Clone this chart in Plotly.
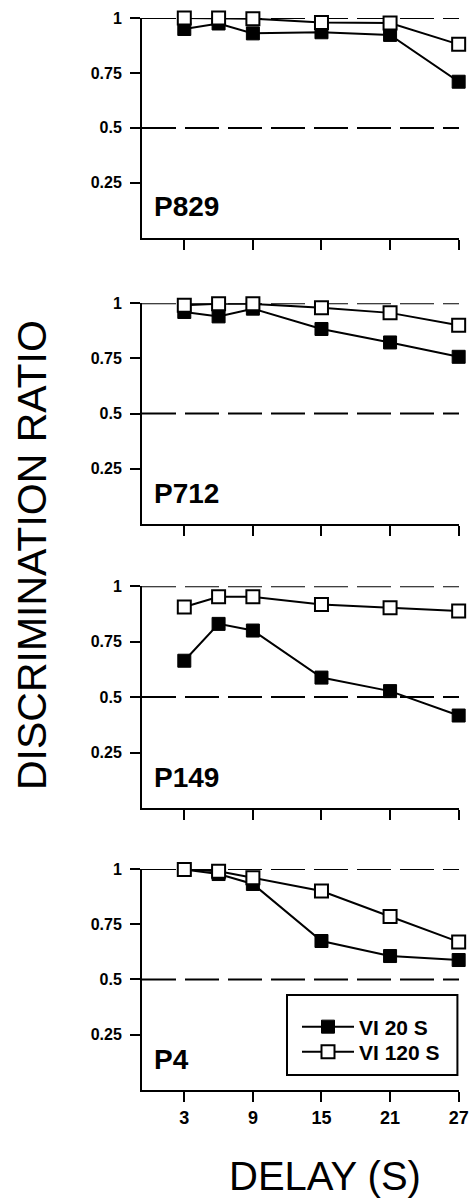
import plotly.graph_objects as go

# ---- data ----
delays = [3, 6, 9, 15, 21, 27]
panels = ["P829", "P712", "P149", "P4"]
vi20 = {
    "P829": [0.95, 0.975, 0.93, 0.935, 0.923, 0.71],
    "P712": [0.96, 0.94, 0.975, 0.883, 0.822, 0.757],
    "P149": [0.664, 0.83, 0.80, 0.588, 0.527, 0.417],
    "P4":   [0.997, 0.977, 0.932, 0.674, 0.606, 0.588],
}
vi120 = {
    "P829": [1.0, 1.0, 0.997, 0.98, 0.977, 0.88],
    "P712": [0.99, 0.997, 0.997, 0.979, 0.956, 0.90],
    "P149": [0.906, 0.952, 0.952, 0.917, 0.903, 0.888],
    "P4":   [0.997, 0.99, 0.96, 0.90, 0.785, 0.67],
}
series_names = ["VI 20 S", "VI 120 S"]
x_ticks = [3, 9, 15, 21, 27]
y_ticks = [0.25, 0.5, 0.75, 1]
y_ticktext = ["0.25", "0.5", "0.75", "1"]
ref_lines = [0.5, 1.0]

FONT = "Liberation Sans, Arial, Helvetica, sans-serif"
W, H = 471, 1203
ML, MR, MT, MB = 142, 12, 18, 113
PW = W - ML - MR  # plot width in px

# vertical domains (paper fractions), top panel first
domains = [[0.795, 1.0], [0.528, 0.734], [0.263, 0.470], [0.0, 0.2062]]

legend_font = dict(family=FONT, size=21, weight="bold", color="black")
legend_x = (297 - ML) / PW
fig = go.Figure()
layout = dict(
    width=W, height=H,
    margin=dict(l=ML, r=MR, t=MT, b=MB, pad=0, autoexpand=False),
    paper_bgcolor="white", plot_bgcolor="white",
    font=dict(family=FONT, color="black"),
    showlegend=True,
    legend=dict(
        x=legend_x, y=(1090 - 1027) / 1072, xanchor="left", yanchor="middle",
        borderwidth=0, bgcolor="rgba(0,0,0,0)", font=legend_font,
        itemwidth=52,
    ),
    legend2=dict(
        x=legend_x, y=(1090 - 1052) / 1072, xanchor="left", yanchor="middle",
        borderwidth=0, bgcolor="rgba(0,0,0,0)", font=legend_font,
        itemwidth=52,
    ),
)
shapes = []
annotations = []

for i, p in enumerate(panels):
    n = i + 1
    xa = "x" if n == 1 else f"x{n}"
    ya = "y" if n == 1 else f"y{n}"
    last = (i == len(panels) - 1)
    fig.add_trace(go.Scatter(
        x=delays, y=vi20[p], xaxis=xa, yaxis=ya, mode="lines+markers",
        name=series_names[0], showlegend=last, legend="legend",
        cliponaxis=False,
        line=dict(color="black", width=2),
        marker=dict(symbol="square", size=13, color="black",
                    line=dict(color="black", width=1)),
    ))
    fig.add_trace(go.Scatter(
        x=delays, y=vi120[p], xaxis=xa, yaxis=ya, mode="lines+markers",
        name=series_names[1], showlegend=last, legend="legend2",
        cliponaxis=False,
        line=dict(color="black", width=2),
        marker=dict(symbol="square", size=13, color="white",
                    line=dict(color="black", width=2)),
    ))
    xkey = "xaxis" if n == 1 else f"xaxis{n}"
    ykey = "yaxis" if n == 1 else f"yaxis{n}"
    layout[xkey] = dict(
        domain=[0, 1], anchor=ya, range=[-0.7, 27.03],
        tickvals=x_ticks, ticktext=[str(v) for v in x_ticks],
        showticklabels=last, ticks="outside", ticklen=10, tickwidth=2,
        tickcolor="black", showline=True, linecolor="black", linewidth=2,
        showgrid=False, zeroline=False, ticklabeloverflow="allow",
        automargin=False,
        tickfont=dict(family=FONT, size=18, weight="bold", color="black"),
    )
    layout[ykey] = dict(
        domain=domains[i], anchor=xa, range=[0, 1.0],
        tickvals=y_ticks, ticktext=y_ticktext,
        ticks="outside", ticklen=10, tickwidth=2, tickcolor="black",
        showline=True, linecolor="black", linewidth=2, automargin=False,
        showgrid=False, zeroline=False, ticklabelstandoff=5,
        tickfont=dict(family=FONT, size=16, weight="bold", color="black"),
    )
    for r in ref_lines:
        shapes.append(dict(
            type="line", xref=f"{xa} domain", yref=ya,
            x0=0, x1=1, y0=r, y1=r,
            line=dict(color="black", width=2, dash="34px,9px"),
            layer="below",
        ))
    annotations.append(dict(
        text=p, xref=xa, yref=ya, x=0.2, y=0.14,
        xanchor="left", yanchor="middle", showarrow=False,
        font=dict(family=FONT, size=28, weight="bold", color="black"),
    ))

# legend frame
shapes.append(dict(
    type="rect", xref="paper", yref="paper",
    x0=(287 - ML) / PW, x1=0.995, y0=0.014, y1=0.0886,
    line=dict(color="black", width=2), fillcolor="white", layer="below",
))

annotations.append(dict(
    text="DISCRIMINATION RATIO", xref="paper", yref="paper",
    x=(32 - ML) / PW, y=0.499, xanchor="center", yanchor="middle",
    textangle=-90, showarrow=False,
    font=dict(family=FONT, size=41, color="black"),
))
annotations.append(dict(
    text="DELAY (S)", xref="paper", yref="paper",
    x=(325 - ML) / PW, y=-0.080, xanchor="center", yanchor="middle",
    showarrow=False,
    font=dict(family=FONT, size=40, color="black"),
))

layout["shapes"] = shapes
layout["annotations"] = annotations
fig.update_layout(**layout)
fig.write_html(
    "out.html",
    config={"displayModeBar": False},
    post_script="document.body.style.margin='0';"
                "document.body.style.overflow='hidden';",
)
